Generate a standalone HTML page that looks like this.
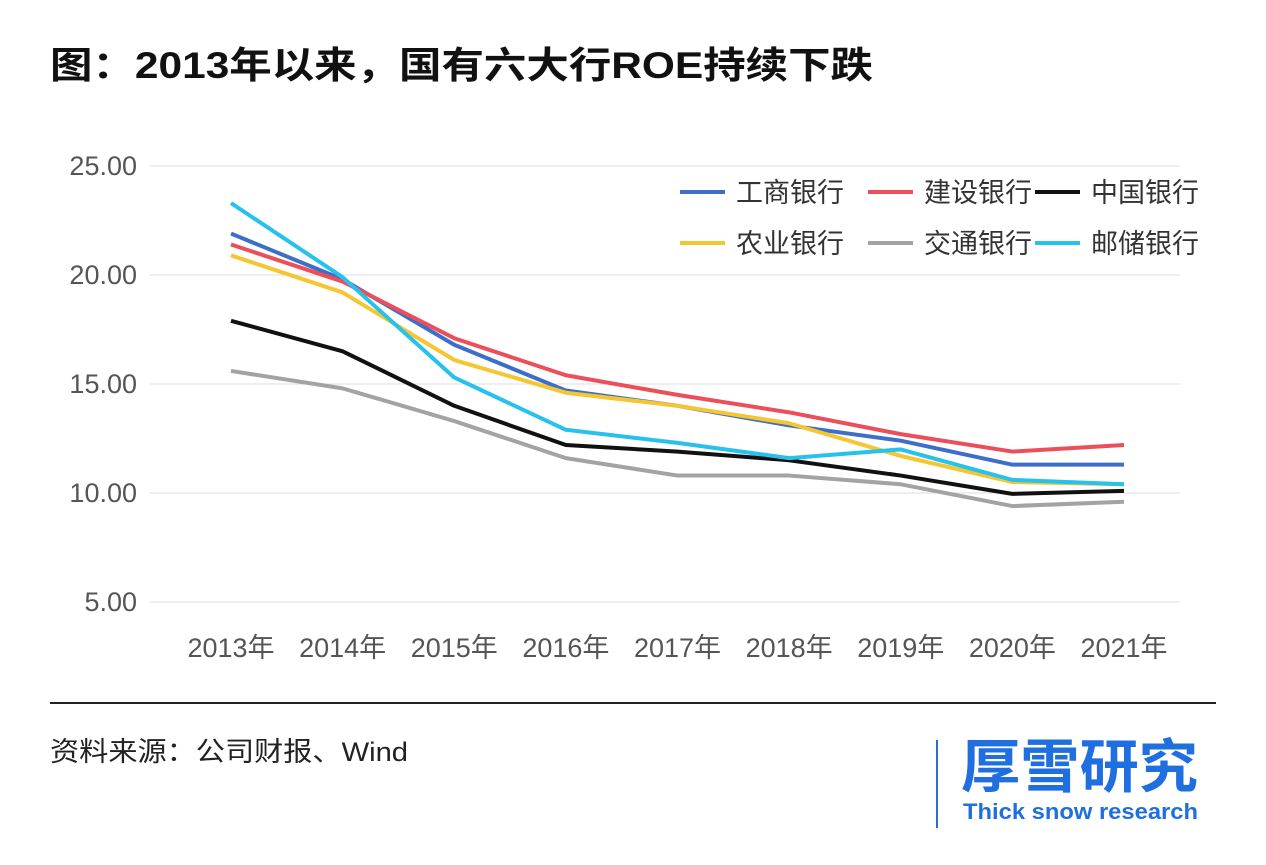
<!DOCTYPE html>
<html><head><meta charset="utf-8">
<style>
body{margin:0;background:#fff;width:1266px;height:860px;overflow:hidden;font-family:"Liberation Sans","Noto Sans CJK SC",sans-serif;}
</style></head>
<body>
<svg width="1266" height="860" xmlns="http://www.w3.org/2000/svg">
<text x="50" y="78" font-size="37" font-weight="bold" fill="#111" font-family="Liberation Sans,Noto Sans CJK SC,sans-serif" textLength="823" lengthAdjust="spacingAndGlyphs">图：2013年以来，国有六大行ROE持续下跌</text>
<g id="grid"></g>
<g id="yticks"></g>
<g id="xticks"></g>
<g id="lines"></g>
<g id="legend"></g>
<line x1="50" y1="703" x2="1216" y2="703" stroke="#222" stroke-width="2"/>
<text x="50" y="761" font-size="27" fill="#222" font-family="Liberation Sans,Noto Sans CJK SC,sans-serif" textLength="358" lengthAdjust="spacingAndGlyphs">资料来源：公司财报、Wind</text>
<line x1="937" y1="740" x2="937" y2="828" stroke="#2a6fd6" stroke-width="2"/>
<text x="961" y="787" font-size="58" font-weight="bold" fill="#1f6fe0" font-family="Noto Sans CJK SC,sans-serif" textLength="237" lengthAdjust="spacingAndGlyphs">厚雪研究</text>
<text x="963" y="819" font-size="22" font-weight="bold" fill="#1f6fe0" font-family="Liberation Sans,sans-serif" textLength="235" lengthAdjust="spacingAndGlyphs">Thick snow research</text>
</svg>
<script>
const years=["2013年","2014年","2015年","2016年","2017年","2018年","2019年","2020年","2021年"];
const yTicks=[5,10,15,20,25];
const yTickLabels=["5.00","10.00","15.00","20.00","25.00"];
const names=["工商银行","建设银行","中国银行","农业银行","交通银行","邮储银行"];
const icbc=[21.9,19.8,16.8,14.7,14.0,13.1,12.4,11.3,11.3];
const ccb=[21.4,19.7,17.1,15.4,14.5,13.7,12.7,11.9,12.2];
const boc=[17.9,16.5,14.0,12.2,11.9,11.5,10.8,9.96,10.1];
const abc=[20.9,19.2,16.1,14.6,14.0,13.2,11.7,10.5,10.4];
const bocom=[15.6,14.8,13.3,11.6,10.8,10.8,10.4,9.4,9.6];
const psbc=[23.3,19.9,15.3,12.9,12.3,11.6,12.0,10.6,10.4];
const series=[icbc,ccb,boc,abc,bocom,psbc];
const colors=["#3d6fc9","#ec4f5a","#111111","#f6c532","#a3a3a3","#27c2ec"];
const NS="http://www.w3.org/2000/svg";
const X=i=>231+i*(1124-231)/(years.length-1);
const Y=v=>493-(v-10)*21.8;
function mk(t,a,p){const e=document.createElementNS(NS,t);for(const k in a)e.setAttribute(k,a[k]);p.appendChild(e);return e;}
const font="Liberation Sans,Noto Sans CJK SC,sans-serif";
yTicks.forEach((v,i)=>{
 const l=mk('line',{x1:150,x2:1180,y1:Y(v),y2:Y(v),stroke:'#dcdcdc','stroke-width':1},document.getElementById('grid'));
 
 
 const t=mk('text',{x:137,y:Y(v)+9,'text-anchor':'end','font-size':27,fill:'#555','font-family':font},document.getElementById('yticks'));
 t.textContent=yTickLabels[i];
 
 
});
years.forEach((y,i)=>{
 const t=mk('text',{x:X(i),y:657,'text-anchor':'middle','font-size':27,fill:'#555','font-family':font},document.getElementById('xticks'));
 t.textContent=y;
 
 
});
series.forEach((s,k)=>{
 const p=mk('polyline',{points:s.map((v,i)=>X(i)+','+Y(v)).join(' '),fill:'none',stroke:colors[k],'stroke-width':4,'stroke-linejoin':'round'},document.getElementById('lines'));
 
 
});
const lx=[680,868,1035],ly=[192,243];
names.forEach((n,k)=>{
 const x=lx[k%3],y=ly[Math.floor(k/3)];
 const g=mk('g',{},document.getElementById('legend'));
 
 
 mk('line',{x1:x,x2:x+45,y1:y,y2:y,stroke:colors[k],'stroke-width':4},g);
 const t=mk('text',{x:x+56,y:y+10,'font-size':27,fill:'#333','font-family':font},g);
 t.textContent=n;
});
</script>
</body></html>
